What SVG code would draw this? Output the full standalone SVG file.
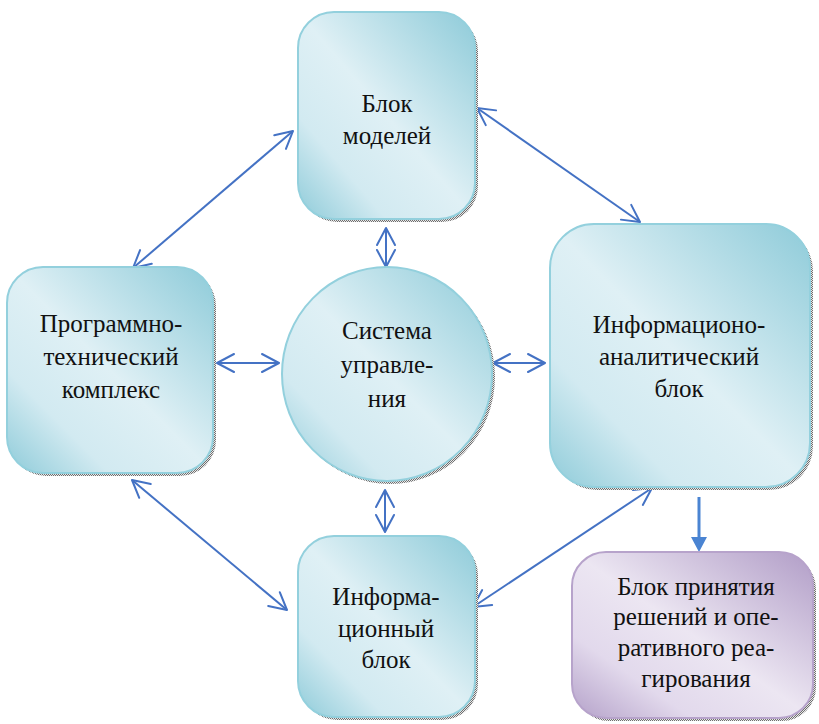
<svg xmlns="http://www.w3.org/2000/svg" width="819" height="724" viewBox="0 0 819 724" font-family="'Liberation Serif', 'DejaVu Serif', serif">
<style>
.box{fill:url(#gBlue);stroke:#93d0dd;stroke-width:2}
.pbox{fill:url(#gPurple);stroke:#b7a3cb;stroke-width:2}
.sh{fill:url(#checker)}
text{font-family:'Liberation Serif', 'DejaVu Serif', serif}
.t{font-size:25px;fill:#111;text-anchor:middle}
.c{fill:none;stroke:#4472c4;stroke-width:2;marker-start:url(#open);marker-end:url(#open)}
</style>
<defs>
<linearGradient id="gBlue" x1="1" y1="0" x2="0" y2="1">
<stop offset="0" stop-color="#8ecbd9"/>
<stop offset="0.5" stop-color="#dff0f5"/>
<stop offset="0.75" stop-color="#d2eaf1"/>
<stop offset="1" stop-color="#8ecbd9"/>
</linearGradient>
<linearGradient id="gPurple" x1="1" y1="0" x2="0" y2="1">
<stop offset="0" stop-color="#b19dc7"/>
<stop offset="0.5" stop-color="#ece6f2"/>
<stop offset="0.75" stop-color="#e2d9ec"/>
<stop offset="1" stop-color="#b4a1c9"/>
</linearGradient>
<pattern id="checker" width="2" height="2" patternUnits="userSpaceOnUse">
<rect width="2" height="2" fill="#e8e8e8"/>
<rect width="1" height="1" fill="#6f6f6f"/>
<rect x="1" y="1" width="1" height="1" fill="#6f6f6f"/>
</pattern>
<marker id="open" markerUnits="userSpaceOnUse" markerWidth="22" markerHeight="22" viewBox="0 0 22 22" refX="19" refY="11" orient="auto-start-reverse">
<path d="M2,2 L19,11 L2,20" fill="none" stroke="#4472c4" stroke-width="2" stroke-linejoin="round" stroke-linecap="round"/>
</marker>
</defs>

<g id="connectors">
<line class="c" x1="133" y1="268" x2="293" y2="131"/>
<line class="c" x1="477" y1="108" x2="640" y2="222"/>
<line class="c" x1="386" y1="228" x2="386" y2="267"/>
<line class="c" x1="217" y1="363" x2="279" y2="363"/>
<line class="c" x1="493" y1="363" x2="545" y2="363"/>
<line class="c" x1="385" y1="490" x2="385" y2="532"/>
<line class="c" x1="132" y1="480" x2="287" y2="610"/>
<line class="c" x1="652" y1="488" x2="473" y2="607"/>
<line x1="699" y1="497" x2="699" y2="538" stroke="#4a84d2" stroke-width="3"/>
<path d="M691,537 L707,537 L699,552 Z" fill="#4a84d2"/>
</g>

<g id="node-models">
<rect class="sh" x="301" y="15" width="177" height="207" rx="36"/>
<rect class="box" x="298" y="12" width="177" height="207" rx="36"/>
<text class="t" x="387" y="112">Блок</text>
<text class="t" x="387" y="144">моделей</text>
</g>

<g id="node-ptk">
<rect class="sh" x="10" y="270" width="206" height="206" rx="36"/>
<rect class="box" x="7" y="267" width="206" height="206" rx="36"/>
<text class="t" x="111" y="332">Программно-</text>
<text class="t" x="111" y="365">технический</text>
<text class="t" x="111" y="398">комплекс</text>
</g>

<g id="node-control">
<ellipse class="sh" cx="390" cy="377" rx="105" ry="107"/>
<ellipse class="box" cx="387" cy="374" rx="105" ry="107"/>
<text class="t" x="387" y="339">Система</text>
<text class="t" x="387" y="373">управле-</text>
<text class="t" x="387" y="407">ния</text>
</g>

<g id="node-iab">
<rect class="sh" x="553" y="227" width="260" height="263" rx="44"/>
<rect class="box" x="550" y="224" width="260" height="263" rx="44"/>
<text class="t" x="679" y="333">Информационо-</text>
<text class="t" x="679" y="365">аналитический</text>
<text class="t" x="679" y="397">блок</text>
</g>

<g id="node-ib">
<rect class="sh" x="301" y="539" width="177" height="181" rx="36"/>
<rect class="box" x="298" y="536" width="177" height="181" rx="36"/>
<text class="t" x="386" y="605">Информа-</text>
<text class="t" x="386" y="637">ционный</text>
<text class="t" x="386" y="668">блок</text>
</g>

<g id="node-decision">
<rect class="sh" x="575" y="555" width="241" height="166" rx="34"/>
<rect class="pbox" x="572" y="552" width="241" height="166" rx="34"/>
<text class="t" x="696" y="595">Блок принятия</text>
<text class="t" x="696" y="625">решений и опе-</text>
<text class="t" x="696" y="656">ративного реа-</text>
<text class="t" x="696" y="687">гирования</text>
</g>
</svg>
